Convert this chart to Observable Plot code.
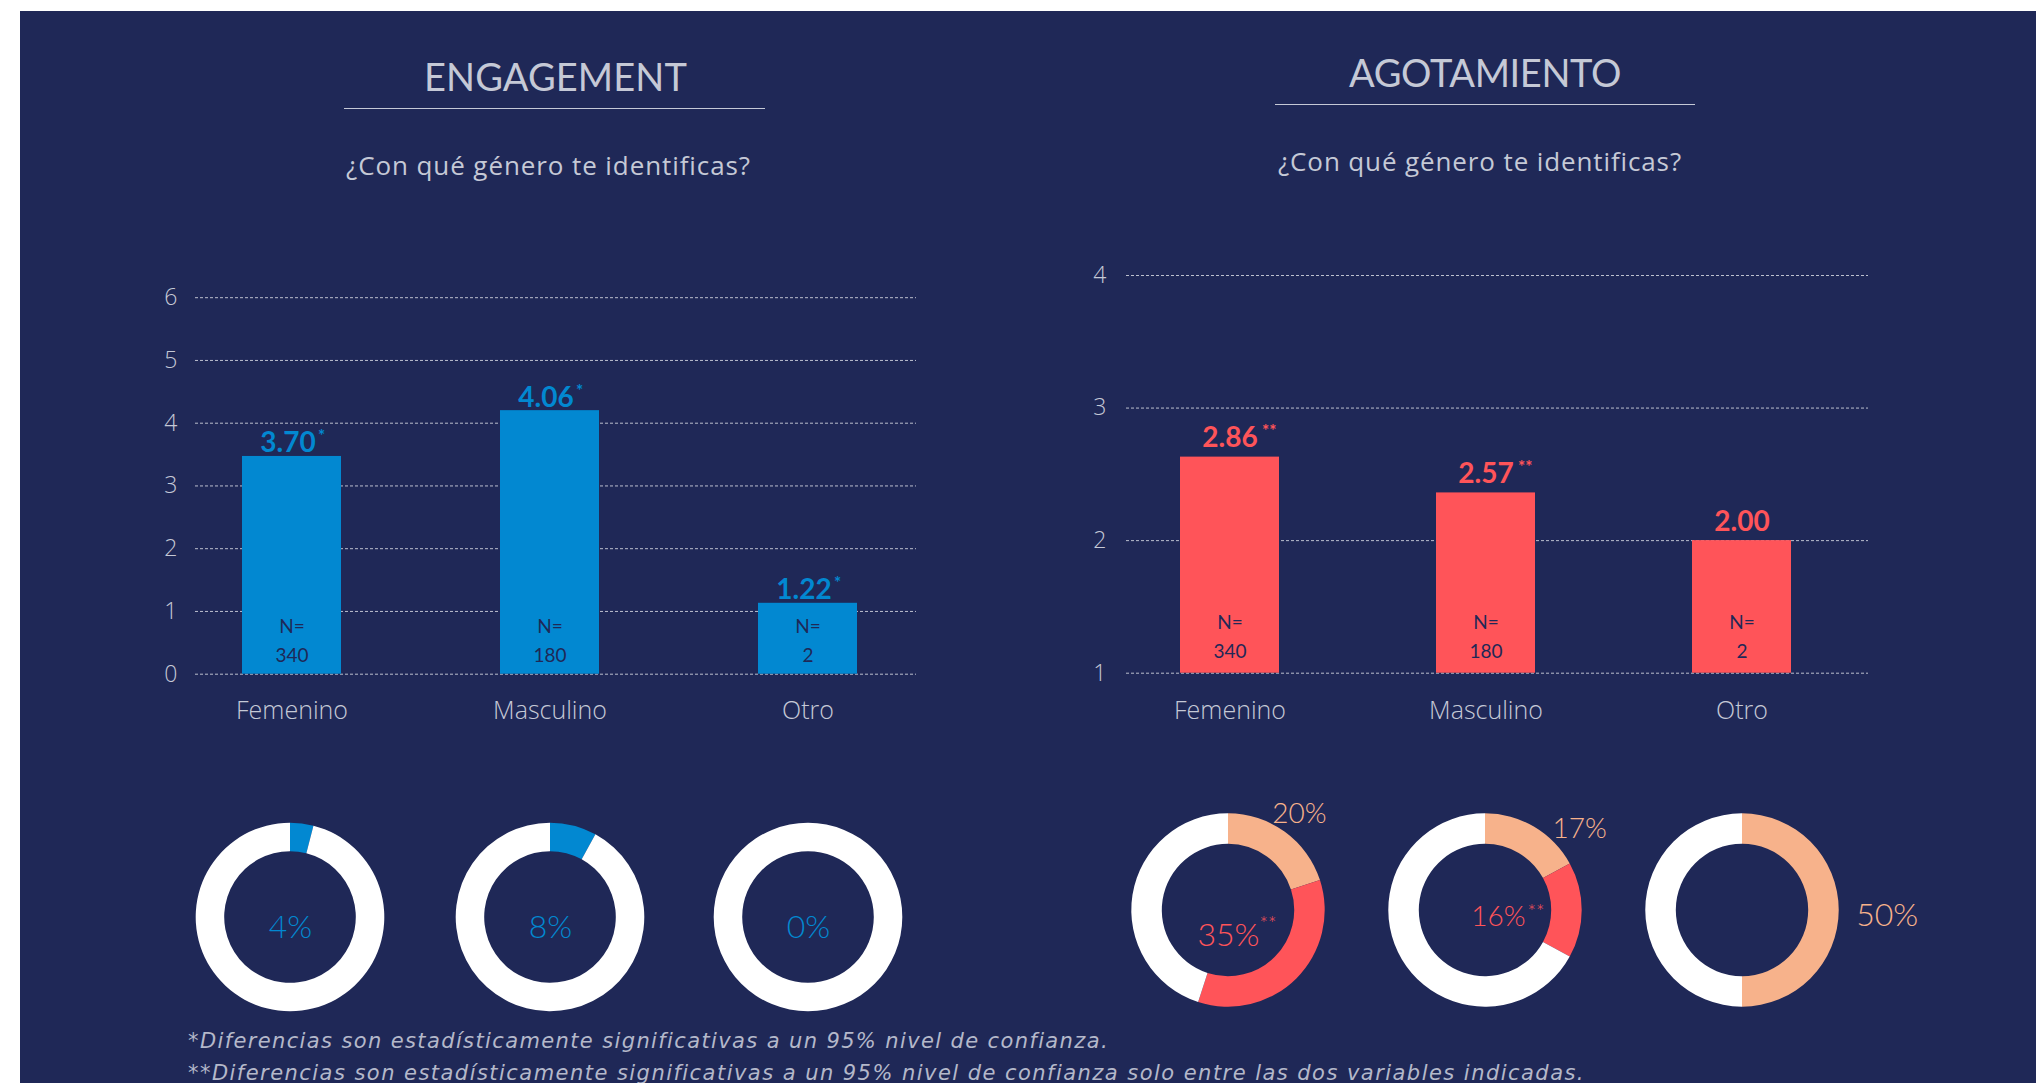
<!DOCTYPE html>
<html lang="es">
<head>
<meta charset="utf-8">
<script src="https://cdn.jsdelivr.net/npm/d3@7"></script>
<script src="https://cdn.jsdelivr.net/npm/@observablehq/plot@0.6"></script>
<style>
html, body { margin:0; padding:0; background:#ffffff; }
body { position:relative; width:2038px; height:1083px; overflow:hidden; font-family: Lato, "Open Sans", sans-serif; }
#panel { position:absolute; left:20px; top:11px; width:2016px; height:1072px; background:#1F2857; }
.txt { position:absolute; white-space:nowrap; }
.rule { position:absolute; height:1.5px; background:#C5C9D6; }
.chart { position:absolute; }
</style>
</head>
<body>
<div id="panel"></div>
<script>
// ---------------- data ----------------
const categories = ["Femenino", "Masculino", "Otro"];
const sampleSizes = [340, 180, 2];

const engagementBars = [3.47, 4.20, 1.13];          // bar heights as drawn
const engagementLabels = ["3.70", "4.06", "1.22"];  // printed values
const engagementFlags = ["*", "*", "*"];
const engagementTicks = [0, 1, 2, 3, 4, 5, 6];
const engagementPct = [4, 8, 0];

const burnoutBars = [2.63, 2.36, 2.00];
const burnoutLabels = ["2.86", "2.57", "2.00"];
const burnoutFlags = ["**", "**", ""];
const burnoutTicks = [1, 2, 3, 4];
const burnoutMidPct = [20, 17, 50];
const burnoutHighPct = [35, 16, 0];
const burnoutHighFlags = ["**", "**", ""];

const titles = ["ENGAGEMENT", "AGOTAMIENTO"];
const question = "¿Con qué género te identificas?";
const notes = [
  "*Diferencias son estadísticamente significativas a un 95% nivel de confianza.",
  "**Diferencias son estadísticamente significativas a un 95% nivel de confianza solo entre las dos variables indicadas."
];

// ---------------- style ----------------
const BLUE = "#0288D1", RED = "#FF5459", PEACH = "#F7B28B", WHITE = "#FFFFFF";
const LIGHT = "#C5C9D6", NTEXT = "#1F2857", GRID = "#CDD0DC", NOTE = "#B4B8CA";
const FONT = "Lato, 'Open Sans', sans-serif";
const WIDE = "'Open Sans', Lato, sans-serif";
const XWIDE = "'DejaVu Sans', 'Open Sans', sans-serif";

// ---------------- html text helper ----------------
function addText(str, {x, baseline, size, anchor = "middle", color = LIGHT, weight = 400, italic = false, width = null, font = FONT}) {
  const d = document.createElement("div");
  d.className = "txt";
  d.textContent = str;
  d.style.fontSize = size + "px";
  d.style.lineHeight = Math.round(size * 1.3) + "px";
  d.style.color = color;
  d.style.fontWeight = weight;
  d.style.fontFamily = font;
  if (italic) d.style.fontStyle = "italic";
  d.style.left = "0px"; d.style.top = "0px";
  document.body.appendChild(d);
  if (width) {
    const w0 = d.getBoundingClientRect().width;
    d.style.letterSpacing = ((width - w0) / str.length) + "px";
  }
  const probe = document.createElement("span");
  probe.style.display = "inline-block"; probe.style.width = "0px"; probe.style.height = "0px";
  probe.style.verticalAlign = "baseline";
  d.appendChild(probe);
  const r = d.getBoundingClientRect();
  const b = probe.getBoundingClientRect().top - r.top;
  const w = r.width;
  d.style.top = (baseline - b) + "px";
  d.style.left = (anchor === "middle" ? x - w / 2 : anchor === "end" ? x - w : x) + "px";
}
function addRule(x1, x2, y) {
  const d = document.createElement("div");
  d.className = "rule";
  d.style.left = x1 + "px"; d.style.width = (x2 - x1) + "px"; d.style.top = (y - 0.75) + "px";
  document.body.appendChild(d);
}
function place(node, left, top) {
  node.classList.add("chart");
  node.style.left = left + "px"; node.style.top = top + "px";
  document.body.appendChild(node);
}

// ---------------- headings ----------------
addText(titles[0], {x: 555.5, baseline: 90.5, size: 38, width: 263});
addRule(344, 765, 108.3);
addText(question, {x: 548.5, baseline: 175, size: 26, weight: 400, width: 405, font: WIDE});
addText(titles[1], {x: 1485, baseline: 86.7, size: 38, width: 272});
addRule(1275, 1695, 104.3);
addText(question, {x: 1480, baseline: 171, size: 26, weight: 400, width: 404, font: WIDE});

// ---------------- bar charts ----------------
function barChart(cfg) {
  const rows = categories.map((c, i) => ({cat: c, bar: cfg.bars[i], label: cfg.labels[i], flag: cfg.flags[i], n: sampleSizes[i]}));
  const base = cfg.yDomain[0];
  return Plot.plot({
    width: cfg.width, height: cfg.height,
    marginLeft: cfg.margins[0], marginRight: cfg.margins[1], marginTop: cfg.margins[2], marginBottom: cfg.margins[3],
    style: {background: "transparent", color: LIGHT, fontFamily: FONT, overflow: "visible"},
    x: {domain: categories, range: cfg.xRange, paddingInner: cfg.paddingInner, paddingOuter: 0, label: null},
    y: {domain: cfg.yDomain, label: null},
    marks: [
      Plot.ruleY(cfg.ticks, {stroke: GRID, strokeOpacity: 0.9, strokeWidth: 1, strokeDasharray: "3 2"}),
      Plot.axisY(cfg.ticks, {tickSize: 0, tickPadding: cfg.tickPadding, fontSize: 23, fontWeight: 300, fontFamily: WIDE, label: null, tickFormat: d => String(d)}),
      Plot.axisX({tickSize: 0, tickPadding: cfg.xPad, fontSize: 25, fontWeight: 300, fontFamily: WIDE, label: null}),
      Plot.barY(rows, {x: "cat", y1: base, y2: "bar", fill: cfg.color}),
      Plot.text(rows, {x: "cat", y: "bar", text: "label", dx: cfg.labelDx, dy: cfg.labelDy, lineAnchor: "bottom", fill: cfg.color, fontSize: 28, fontWeight: 700}),
      Plot.text(rows, {x: "cat", y: "bar", text: "flag", dx: cfg.flagDx, dy: cfg.flagDy, textAnchor: "start", lineAnchor: "bottom", fill: cfg.color, fontSize: 17, fontWeight: 700}),
      Plot.text(rows, {x: "cat", y: base, text: () => "N=", dy: cfg.nDy, lineAnchor: "bottom", fill: NTEXT, fontSize: 19, fontWeight: 400}),
      Plot.text(rows, {x: "cat", y: base, text: d => String(d.n), dy: cfg.countDy, lineAnchor: "bottom", fill: NTEXT, fontSize: 19, fontWeight: 400})
    ]
  });
}

place(barChart({
  bars: engagementBars, labels: engagementLabels, flags: engagementFlags, ticks: engagementTicks,
  yDomain: [0, 6], color: BLUE,
  width: 860, height: 500, margins: [95, 44, 47.2, 76.3],
  xRange: [141.5, 758], paddingInner: 0.6174,
  tickPadding: 18, xPad: 27,
  labelDx: -4, labelDy: -4, flagDx: 26, flagDy: -14, nDy: -41, countDy: -12
}), 100, 250);

place(barChart({
  bars: burnoutBars, labels: burnoutLabels, flags: burnoutFlags, ticks: burnoutTicks,
  yDomain: [1, 4], color: RED,
  width: 900, height: 520, margins: [106, 52, 45, 77.3],
  xRange: [159, 771], paddingInner: 0.614,
  tickPadding: 20, xPad: 28,
  labelDx: 0, labelDy: -10, flagDx: 32, flagDy: -20, nDy: -44, countDy: -15
}), 1020, 230);

// ---------------- donuts ----------------
function donut(slices, labels, cx, cy, rOut, rIn) {
  const W = 440, H = 260;
  const marks = [
    Plot.ruleX(slices, {x: "end", strokeOpacity: 0}),
    (index, scales, values, dims) => {
      const angle = scales.x;
      const arc = d3.arc().innerRadius(rIn).outerRadius(rOut);
      const g = d3.create("svg:g").attr("transform", `translate(${dims.width / 2},${dims.height / 2})`);
      g.selectAll("path").data(slices.filter(s => s.end > s.start)).join("path")
        .attr("d", d => arc({startAngle: angle(d.start), endAngle: angle(d.end)}))
        .attr("fill", d => d.color);
      return g.node();
    },
    ...labels.map(l => Plot.text([l], {
      text: "text", frameAnchor: "middle", dx: l.dx, dy: l.dy,
      textAnchor: l.anchor || "middle", lineAnchor: "bottom",
      fill: l.color, fontSize: l.size, fontWeight: 300
    }))
  ];
  const svg = Plot.plot({
    width: W, height: H, margin: 0,
    x: {domain: [0, 100], range: [0, 2 * Math.PI], axis: null},
    style: {background: "transparent", fontFamily: FONT, overflow: "visible"},
    marks
  });
  place(svg, cx - W / 2, cy - H / 2);
}

const engCenters = [[290, 916.7], [550, 916.7], [808, 916.5]];
engagementPct.forEach((p, i) => {
  const slices = [
    {start: 0, end: p, color: BLUE},
    {start: p, end: 100, color: WHITE}
  ];
  donut(slices, [{text: `${p}%`, dx: 0, dy: 20, color: BLUE, size: 32}], engCenters[i][0], engCenters[i][1], 94.3, 65.8);
});

const burnCenters = [[1228.3, 910], [1485, 910], [1742.3, 910]];
const midLabelPos = [{dx: 43.7, dy: -88, size: 28}, {dx: 67, dy: -73, size: 28}, {dx: 113.7, dy: 15, size: 32}];
const highLabelPos = [{dx: 0, dy: 35, size: 32, fdx: 31, fdy: 20}, {dx: 13, dy: 15, size: 28, fdx: 42, fdy: 8}, null];
burnoutMidPct.forEach((m, i) => {
  const h = burnoutHighPct[i];
  const slices = [
    {start: 0, end: m, color: PEACH},
    {start: m, end: m + h, color: RED},
    {start: m + h, end: 100, color: WHITE}
  ];
  const labels = [{text: `${m}%`, anchor: "start", color: PEACH, ...midLabelPos[i]}];
  if (h > 0) {
    const hp = highLabelPos[i];
    labels.push({text: `${h}%`, dx: hp.dx, dy: hp.dy, size: hp.size, color: RED});
    labels.push({text: burnoutHighFlags[i], dx: hp.fdx, dy: hp.fdy, size: 20, color: RED, anchor: "start"});
  }
  donut(slices, labels, burnCenters[i][0], burnCenters[i][1], 96.7, 66.2);
});

// ---------------- footnotes ----------------
addText(notes[0], {x: 188, baseline: 1048, size: 21, anchor: "start", color: NOTE, weight: 200, italic: true, width: 921, font: XWIDE});
addText(notes[1], {x: 188, baseline: 1080, size: 21, anchor: "start", color: NOTE, weight: 200, italic: true, width: 1397, font: XWIDE});
</script>
</body>
</html>
